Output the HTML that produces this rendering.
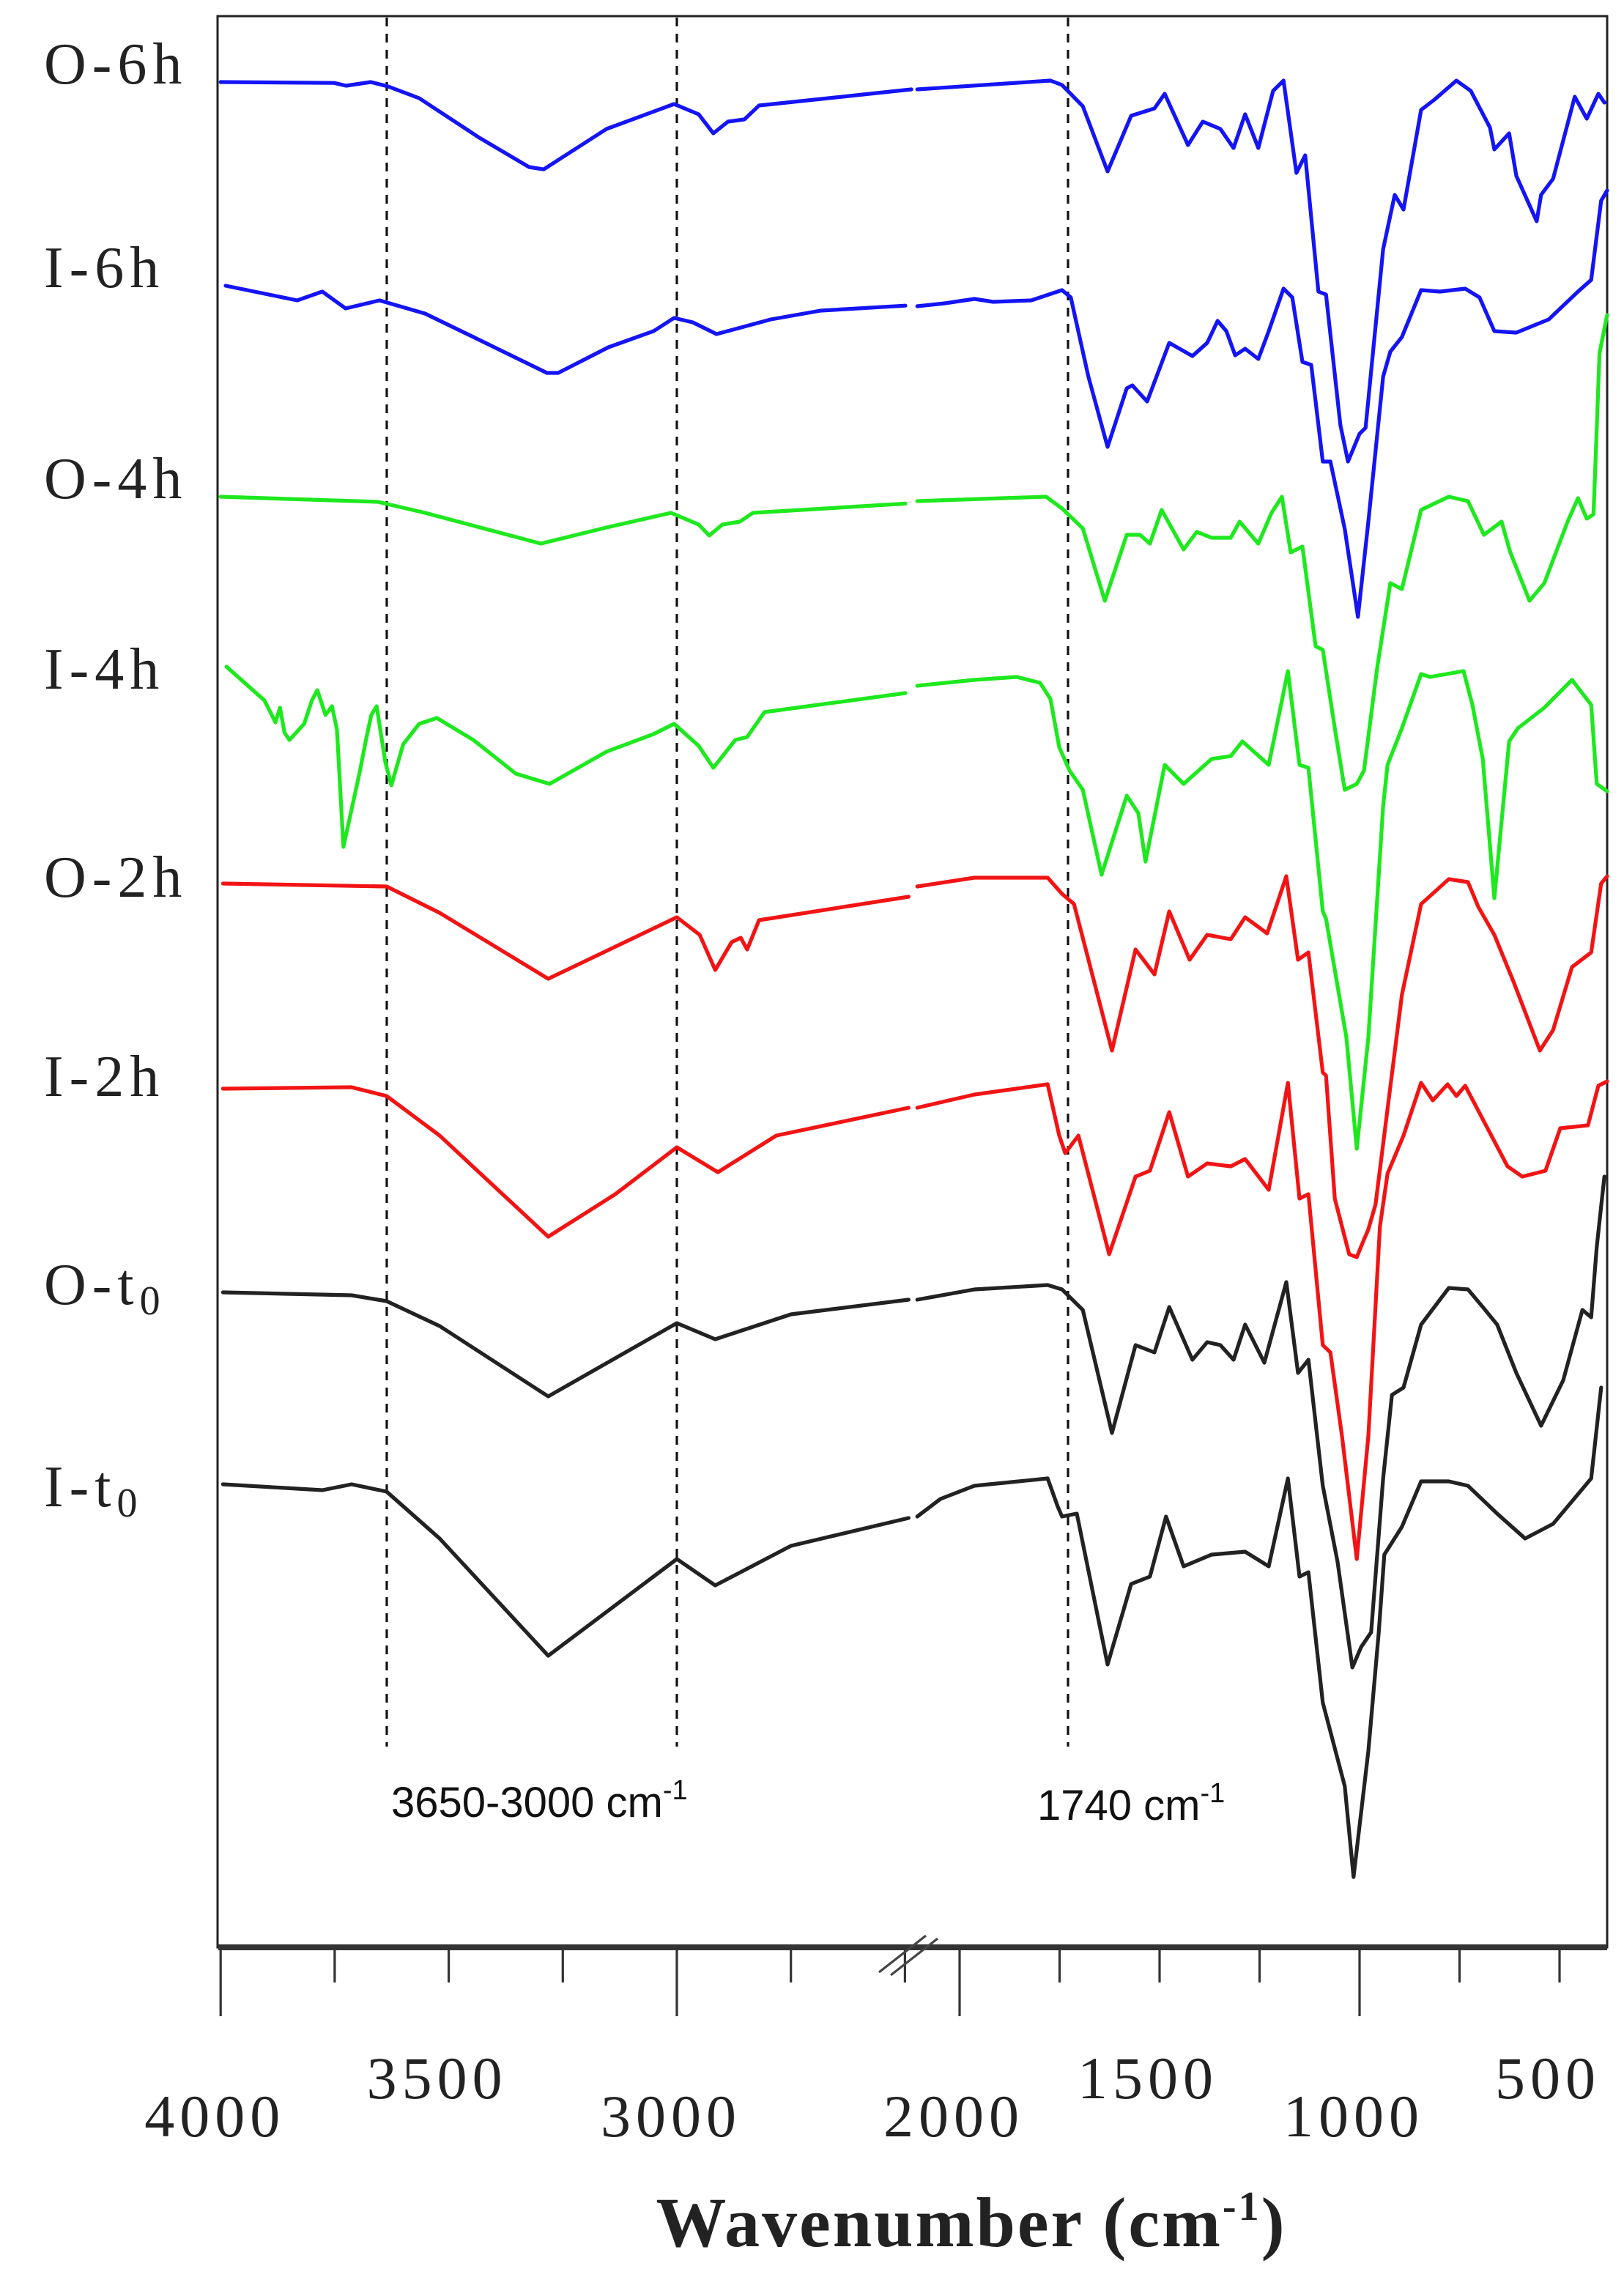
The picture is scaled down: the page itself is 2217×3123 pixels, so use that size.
<!DOCTYPE html>
<html>
<head>
<meta charset="utf-8">
<style>
html,body{margin:0;padding:0;background:#fff;}
svg{display:block;}
.lbl{font-family:"Liberation Serif",serif;font-size:40px;fill:#222;letter-spacing:4px;}
.tick{font-family:"Liberation Serif",serif;font-size:41px;fill:#222;letter-spacing:3.5px;}
.ann{font-family:"Liberation Sans",sans-serif;font-size:29px;fill:#111;}
</style>
</head>
<body>
<svg id="chart" width="2217" height="3123" viewBox="0 0 1108.5 1561.5" xmlns="http://www.w3.org/2000/svg">
  <rect x="148.5" y="11" width="948.5" height="1318" fill="none" stroke="#222" stroke-width="1.5"/>
  <g stroke="#111" stroke-width="1.6" stroke-dasharray="6,5">
    <line x1="264" y1="12" x2="264" y2="1192"/>
    <line x1="462" y1="12" x2="462" y2="1192"/>
    <line x1="729" y1="12" x2="729" y2="1192"/>
  </g>
  <text class="ann" x="267" y="1240">3650-3000 cm<tspan font-size="19" dy="-12">-1</tspan></text>
  <text class="ann" x="708" y="1242">1740 cm<tspan font-size="19" dy="-12">-1</tspan></text>
  <g id="series"></g>
  <g id="labels">
    <text class="lbl" x="30" y="57">O-6h</text>
    <text class="lbl" x="30" y="196">I-6h</text>
    <text class="lbl" x="30" y="340">O-4h</text>
    <text class="lbl" x="30" y="470">I-4h</text>
    <text class="lbl" x="30" y="612">O-2h</text>
    <text class="lbl" x="30" y="748">I-2h</text>
    <text class="lbl" x="30" y="890">O-t<tspan font-size="28" dy="7">0</tspan></text>
    <text class="lbl" x="30" y="1028">I-t<tspan font-size="28" dy="7">0</tspan></text>
  </g>
  <g id="axis"></g>
  <text x="663" y="1533" text-anchor="middle" font-family="'Liberation Serif',serif" font-weight="bold" font-size="48" letter-spacing="1.5" fill="#222">Wavenumber (cm<tspan font-size="28" dy="-18">-1</tspan><tspan dy="18">)</tspan></text>
</svg>
<script>
// ---- data ----
const seriesNames = ["O-6h","I-6h","O-4h","I-4h","O-2h","I-2h","O-t0","I-t0"];
const o6hWav = [4000,3751,3725,3671,3633,3565,3433,3324,3292,3154,3006,2952,2920,2888,2852,2820,2486,2106,1773,1744,1692,1630,1571,1513,1487,1429,1392,1348,1315,1286,1253,1216,1190,1158,1136,1103,1084,1048,1029,1000,985,941,912,890,846,813,758,722,674,663,626,608,557,546,516,462,432,403,388];
const o6hVal = [0,0.6,2.5,0,3,11,38,58,59.6,32,15,22,35,27,25.5,16,5,5,-1,2,16.5,61,23,18,8,43,27,32,45,22,45,6,-1,62,50,143,145,234,259,240,236,114,77,87,19,12,-1,6,31,46,35,64,95,77,66,10,25,8,14];
const i6hWav = [3989,3832,3777,3726,3652,3552,3446,3285,3260,3150,3051,3006,2965,2913,2794,2685,2499,2106,2037,1963,1916,1821,1744,1722,1678,1630,1582,1568,1531,1476,1418,1381,1355,1333,1311,1286,1253,1227,1190,1168,1143,1121,1092,1073,1037,1004,978,941,923,894,846,799,736,700,663,608,527,454,421,396,381];
const i6hVal = [-2,8,2,13.5,8,17,33,57.5,57.5,40,29,20,23,31,21,15,11.6,12,10,7,9,8,1,6,60,108,68,66,77,37,46,37,22,29,45.5,41,48,29,0,6,50,52,118,118,164,224,159,60,43,33,1,2,0,6,29,30,21,2,-6,-60,-67];
const o4hWav = [4000,3655,3552,3298,3154,3013,2952,2929,2900,2862,2833,2499,2106,1784,1744,1692,1637,1582,1549,1524,1495,1440,1407,1370,1322,1300,1253,1220,1194,1172,1143,1110,1092,1062,1037,1007,989,956,923,894,846,777,729,689,645,623,575,538,480,454,432,415,400,381];
const o4hVal = [-2,1.5,9,30,19,9,17,24.5,17,15,9,2.7,1,-2,6,19.6,69,24,24,30,7,34,22,26,26,15,30,9,-2,36,32,100,102.5,156,198,194,185,115,57,61,7,-2,1,24,15,36,69,57,15,-1,13,10,-100,-126];
const i4hWav = [3987,3904,3880,3870,3860,3849,3817,3800,3788,3770,3756,3745,3731,3696,3680,3670,3658,3639,3626,3600,3565,3526,3446,3353,3279,3154,3051,3006,2952,2920,2872,2846,2808,2499,2106,1963,1857,1799,1773,1751,1725,1692,1645,1582,1553,1535,1487,1440,1370,1322,1293,1227,1179,1150,1128,1092,1084,1033,1007,978,941,930,894,846,824,740,718,692,663,626,604,538,469,421,407,381];
const i4hVal = [-3,20,35,25,42,47,36,20,13,30,24,40,120,70,45,30,24,62,78,50,36,32,47,70,77,55,43,36,51,66,47,45,28,15,10,6,4,8,19,52,68,81,139,85,97,130,64,77,60,58,48,64,0,64,66,164,169,250,326,250,92,64,39,2,4,0,23,60,155,48,39,25,6,23,77,82];
const o2hWav = [3995,3636,3520,3282,3000,2950,2916,2880,2860,2846,2820,2492,2106,1963,1780,1744,1714,1619,1560,1513,1476,1425,1381,1322,1286,1231,1183,1154,1128,1092,1084,1062,1026,1007,989,978,960,894,846,777,729,703,663,615,549,516,469,421,396,381];
const o2hVal = [0,2,20,65,23,35,59,40,37,45,25,9,2,-4,-4,7,14,114,45,62,19,52,35,38,23,34,-5,52,47,129,131,215,253,255,243,236,219,76,14,-3,-1,16,35,67,114,100,57,47,0,-5];
const i2hWav = [3995,3713,3636,3520,3282,3135,3000,2910,2782,2492,2106,1963,1780,1751,1736,1703,1626,1560,1524,1476,1429,1381,1322,1286,1227,1179,1150,1128,1092,1073,1044,1007,978,949,930,890,846,817,780,758,736,630,593,535,498,429,403,381];
const i2hVal = [0,-1,5,32,101,72,40,57,32,13,13,4,-3,32,44,32,113,60,56,16,60,51,53,48,69,-4,75,72,175,180,237,321,237,94,58,32,-4,8,-3,5,-2,53,60,56,27,25,-2,-5];
const ot0Wav = [3995,3713,3636,3520,3282,3000,2916,2750,2492,2106,1963,1780,1744,1692,1619,1560,1513,1476,1418,1381,1348,1315,1286,1238,1183,1154,1128,1092,1055,1018,996,971,941,919,890,846,777,729,692,656,608,546,491,443,421,407,388];
const ot0Val = [0,2,6,23,71,21,32,15,5,5,-2,-5,-2,12,96,36,41,10,46,34,36,46,22,48,-7,55,46,132,184,256,242,232,127,70,65,22,-3,-2,10,22,55,91,60,12,17,-31,-79];
const it0Wav = [3995,3777,3713,3636,3520,3282,3000,2916,2750,2492,2106,2048,1963,1780,1755,1744,1707,1630,1571,1524,1484,1440,1370,1286,1227,1179,1150,1128,1092,1037,1015,978,952,938,894,846,777,729,656,586,516,421,396];
const it0Val = [0,4,0,5,37,117,51,69,42,23,22,10,1,-4,15,22,20,123,68,63,22,56,48,46,56,-4,63,60,149,206,268,182,101,48,29,-2,-2,1,20,37,27,-4,-66];
const majorTicks = [4000,3000,2000,1000];
const minorTicks = [3750,3500,3250,2750,2500,1750,1500,1250,750,500];
const upperTickLabels = ["3500","1500","500"];
const lowerTickLabels = ["4000","3000","2000","1000"];

// ---- layout ----
const seriesWav = [o6hWav,i6hWav,o4hWav,i4hWav,o2hWav,i2hWav,ot0Wav,it0Wav];
const seriesVal = [o6hVal,i6hVal,o4hVal,i4hVal,o2hVal,i2hVal,ot0Val,it0Val];
const seriesBase = [56,197,341,458,603,743,882,1013];
const seriesColor = ["#1414f5","#1414f5","#1ee81e","#1ee81e","#f21414","#f21414","#222","#222"];
const BREAK = 2300;
function xScale(w){ return w >= BREAK ? 150.6 + (4000 - w) * 0.3114 : 655 + (2000 - w) * 0.273; }
function yScale(i, v){ return seriesBase[i] + v; }

const NS = "http://www.w3.org/2000/svg";
const gS = document.getElementById("series");
seriesNames.forEach((name, i) => {
  const W = seriesWav[i], V = seriesVal[i];
  const n = Math.min(W.length, V.length);
  const segs = [[], []];
  for (let k = 0; k < n; k++) {
    segs[W[k] >= BREAK ? 0 : 1].push(xScale(W[k]).toFixed(1) + "," + yScale(i, V[k]).toFixed(1));
  }
  segs.forEach((pts, s) => {
    if (!pts.length) return;
    const p = document.createElementNS(NS, "polyline");
    p.setAttribute("points", pts.join(" "));
    p.setAttribute("fill", "none");
    p.setAttribute("stroke", seriesColor[i]);
    p.setAttribute("stroke-width", "2.6");
    p.setAttribute("stroke-linejoin", "round");
    p.setAttribute("stroke-linecap", "round");
    
    
    gS.appendChild(p);
  });
});

const gA = document.getElementById("axis");
function add(tag, attrs){ const e = document.createElementNS(NS, tag); for (const k in attrs) e.setAttribute(k, attrs[k]); gA.appendChild(e); return e; }
const axisLine = add("line", {x1:149, y1:1329, x2:1097, y2:1329, stroke:"#333", "stroke-width":4});


majorTicks.forEach(w => {
  const t = add("line", {x1:xScale(w), y1:1329, x2:xScale(w), y2:1376, stroke:"#333", "stroke-width":1.6});
  
  
});
minorTicks.forEach(w => {
  const t = add("line", {x1:xScale(w), y1:1329, x2:xScale(w), y2:1353, stroke:"#333", "stroke-width":1.6});
  
  
});
lowerTickLabels.forEach(s => {
  const t = add("text", {x:xScale(+s) - 4, y:1458, "text-anchor":"middle", class:"tick"});
  t.textContent = s;
  
  
});
upperTickLabels.forEach(s => {
  const t = add("text", {x:xScale(+s) - 8, y:1432, "text-anchor":"middle", class:"tick"});
  t.textContent = s;
  
  
});
[[600,1346,632,1321],[608,1348,640,1323]].forEach(c => {
  const b = add("line", {x1:c[0], y1:c[1], x2:c[2], y2:c[3], stroke:"#444", "stroke-width":1.6});
  
  
});
</script>
</body>
</html>
